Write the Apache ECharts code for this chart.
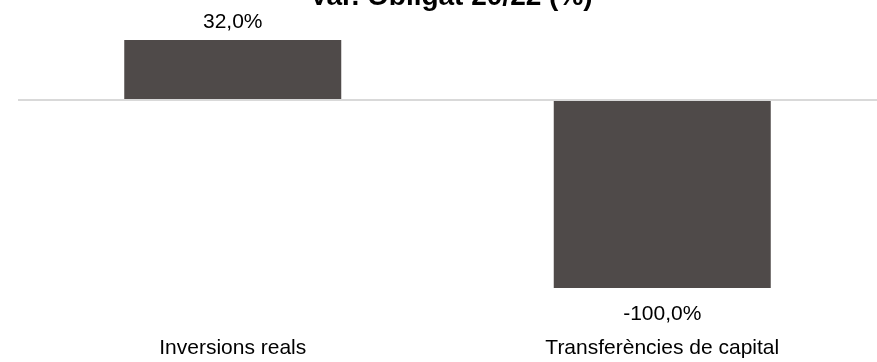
<!DOCTYPE html>
<html>
<head>
<meta charset="utf-8">
<script src="https://cdn.jsdelivr.net/npm/echarts@6/dist/echarts.min.js"></script>
<style>html,body{margin:0;padding:0;background:#fff}#c{width:877px;height:362px}</style>
</head>
<body>
<div id="c"></div>
<script>
var categories = ['Inversions reals', 'Transferències de capital'];
var values = [32.0, -100.0];
var titleText = 'Var. Obligat 20/22 (%)';

var chart = echarts.init(document.getElementById('c'), null, {renderer: 'canvas'});
var fontFam = '"Liberation Sans", Arial, sans-serif';
chart.setOption({
  animation: false,
  backgroundColor: '#ffffff',
  title: {
    text: titleText, left: 446, top: -22, textAlign: 'center',
    textStyle: {fontFamily: fontFam, fontSize: 28, fontWeight: 'bold', color: '#000'}
  },
  grid: {left: 18, width: 868, top: 40, height: 248, containLabel: false},
  xAxis: {
    type: 'category', data: categories,
    axisLine: {show: false, onZero: false}, axisTick: {show: false},
    axisLabel: {margin: 50, fontFamily: fontFam, fontSize: 21, color: '#000'}
  },
  yAxis: {type: 'value', min: -100, max: 32, show: false, splitLine: {show: false}},
  series: [{
    type: 'bar', barWidth: 217,
    data: values.map(function (v) {
      return {value: v, label: {position: v >= 0 ? 'top' : 'bottom', distance: v >= 0 ? 7 : 16}};
    }),
    itemStyle: {color: '#4f4a49'},
    label: {
      show: true, fontFamily: fontFam, fontSize: 21, color: '#000',
      formatter: function (p) { return p.value.toFixed(1).replace('.', ',') + '%'; }
    },
    markLine: {
      silent: true, symbol: ['none', 'none'], label: {show: false},
      lineStyle: {color: '#d9d9d9', width: 2, type: 'solid'},
      data: [{yAxis: 0}]
    }
  }]
});
</script>
</body>
</html>
